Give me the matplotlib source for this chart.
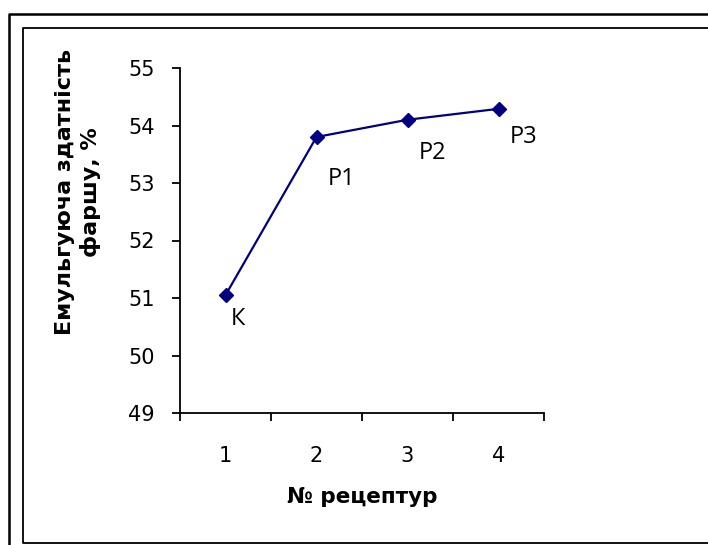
import matplotlib
matplotlib.use("Agg")
import matplotlib.pyplot as plt
from matplotlib.lines import Line2D

# дані з графіка
recepty = [1, 2, 3, 4]
zdatnist = [51.05, 53.8, 54.1, 54.29]
pidpysy = ["К", "Р1", "Р2", "Р3"]
y_ticks = [49, 50, 51, 52, 53, 54, 55]

W, H = 708, 545
fig = plt.figure(figsize=(W / 100, H / 100), dpi=100)
fig.patch.set_facecolor("white")

def px(x, y):
    return x / W, 1 - y / H

# рамки (зовнішня та внутрішня), як у Excel
x0, y0 = px(9, 14)
x1, y1 = px(720, 560)
fig.add_artist(Line2D([x0, x0, x1], [y1, y0, y0], color="black", lw=1.8))
x0, y0 = px(23, 27.5)
x1, y1 = px(720, 543)
fig.add_artist(Line2D([x1, x0, x0, x1], [y0, y0, y1, y1], color="black", lw=1.3))

l, t = px(180, 68)
r, b = px(544, 413)
ax = fig.add_axes([l, b, r - l, t - b])

ax.plot(recepty, zdatnist, color="#000080", lw=1.6, marker="D", markersize=7.5,
        markerfacecolor="#000080", markeredgecolor="#000080")

offsets = [(9, -17), (18, -30), (18, -24), (18, -20)]
for xv, yv, txt, off in zip(recepty, zdatnist, pidpysy, offsets):
    ax.annotate(txt, (xv, yv), xytext=off, textcoords="offset points",
                ha="center", va="center", fontsize=17,
                family=["Open Sans", "DejaVu Sans"])

ax.set_xlim(0.5, 4.5)
ax.set_ylim(49, 55)
ax.set_yticks(y_ticks)
ax.set_xticks(recepty)
ax.set_xticks([0.5, 1.5, 2.5, 3.5, 4.5], minor=True)
ax.tick_params(axis="x", which="major", length=0, pad=24, labelsize=15)
ax.tick_params(axis="x", which="minor", length=6, width=1.3, direction="out")
ax.tick_params(axis="y", length=6, width=1.3, direction="out", pad=12, labelsize=15)

for s in ["top", "right"]:
    ax.spines[s].set_visible(False)
for s in ["left", "bottom"]:
    ax.spines[s].set_linewidth(1.3)

fx, fy = px(362, 497)
fig.text(fx, fy, "№ рецептур", ha="center", va="center", fontsize=15.5,
         fontweight="bold")
fx, fy = px(78, 192)
fig.text(fx, fy, "Емульгуюча здатність\nфаршу, %", ha="center", va="center",
         rotation=90, fontsize=16, fontweight="bold", linespacing=1.35)

fig.savefig("out.png", dpi=100)
